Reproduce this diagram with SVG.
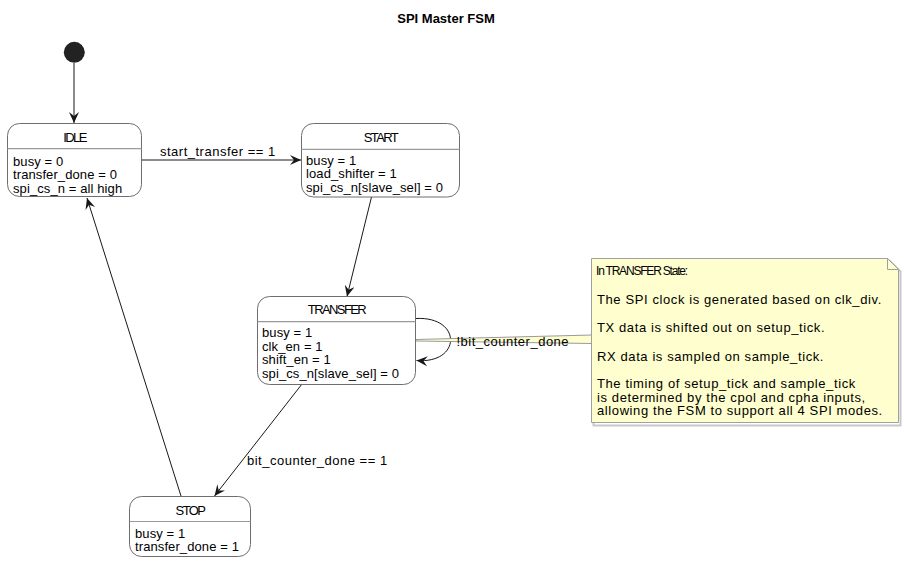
<svg xmlns="http://www.w3.org/2000/svg" width="904" height="562" viewBox="0 0 904 562">
<defs>
<marker id="ah" viewBox="0 0 12 10" refX="11" refY="5" markerWidth="12" markerHeight="10" markerUnits="userSpaceOnUse" orient="auto">
<path d="M0,0 L11,5 L0,10 L4,5 z" fill="#181818"/>
</marker>
<style>
.box{fill:#ffffff;stroke:#6e6e6e;stroke-width:1}
.sep{stroke:#9a9a9a;stroke-width:1.2}
.hdr{font-family:"Liberation Sans",Arial,sans-serif;font-size:13px;letter-spacing:-1.6px;fill:#000;text-anchor:middle}
.body{font-family:"Liberation Sans",Arial,sans-serif;font-size:13px;letter-spacing:0.1px;fill:#000}
.lbl{font-family:"Liberation Sans",Arial,sans-serif;font-size:13px;letter-spacing:0.5px;fill:#000}
.edge{fill:none;stroke:#181818;stroke-width:1;marker-end:url(#ah)}
.note{fill:#fefece;stroke:#a0a0a0;stroke-width:1}
.ntxt{font-family:"Liberation Sans",Arial,sans-serif;font-size:13px;letter-spacing:0.6px;fill:#000}
.nhdr{font-family:"Liberation Sans",Arial,sans-serif;font-size:12px;letter-spacing:-1.2px;fill:#000}
</style>
</defs>
<rect width="904" height="562" fill="#ffffff"/>
<text x="446" y="22.5" font-family="Liberation Sans,Arial,sans-serif" font-size="13" font-weight="bold" text-anchor="middle">SPI Master FSM</text>

<g id="connectors">
<line class="edge" x1="74" y1="63" x2="74" y2="123"/>
<line class="edge" x1="141" y1="160" x2="301" y2="160"/>
<line class="edge" x1="371.5" y1="197" x2="347" y2="296.5"/>
<path class="edge" d="M416,318.5 C462,316 462,364 416.5,360.5"/>
<line class="edge" x1="302" y1="384" x2="214.5" y2="496"/>
<line class="edge" x1="181" y1="496" x2="87" y2="198"/>
<polygon points="416,339.5 592,335 592,343.5 416,341" fill="#fefece" stroke="#9a9a9a" stroke-width="1"/>
<text class="lbl" x="160" y="156">start_transfer == 1</text>
<text class="lbl" x="456.5" y="345.5">!bit_counter_done</text>
<text class="lbl" x="247" y="465">bit_counter_done == 1</text>
</g>

<g id="initial">
<circle cx="74.3" cy="52.3" r="10.5" fill="#222222"/>
</g>

<g id="IDLE">
<rect class="box" x="7.5" y="123.5" width="134" height="73" rx="12" ry="12"/>
<line class="sep" x1="7.5" y1="148.7" x2="141.5" y2="148.7"/>
<text class="hdr" x="74.5" y="141.5">IDLE</text>
<text class="body" x="13" y="165.5">busy = 0</text>
<text class="body" x="13" y="179">transfer_done = 0</text>
<text class="body" x="13" y="192.5">spi_cs_n = all high</text>
</g>

<g id="START">
<rect class="box" x="301.5" y="123.5" width="158" height="73.5" rx="12" ry="12"/>
<line class="sep" x1="301.5" y1="149.3" x2="459.5" y2="149.3"/>
<text class="hdr" x="380.5" y="141.8">START</text>
<text class="body" x="306" y="164.5">busy = 1</text>
<text class="body" x="306" y="178">load_shifter = 1</text>
<text class="body" x="306" y="191.5">spi_cs_n[slave_sel] = 0</text>
</g>

<g id="TRANSFER">
<rect class="box" x="257.5" y="296.5" width="158" height="88" rx="12" ry="12"/>
<line class="sep" x1="257.5" y1="321.7" x2="415.5" y2="321.7"/>
<text class="hdr" x="336.5" y="314.3">TRANSFER</text>
<text class="body" x="262" y="337">busy = 1</text>
<text class="body" x="262" y="350.5">clk_en = 1</text>
<text class="body" x="262" y="364">shift_en = 1</text>
<text class="body" x="262" y="377.5">spi_cs_n[slave_sel] = 0</text>
</g>

<g id="STOP">
<rect class="box" x="129.5" y="496.5" width="121" height="60" rx="12" ry="12"/>
<line class="sep" x1="129.5" y1="521.5" x2="250.5" y2="521.5"/>
<text class="hdr" x="190" y="514.5">STOP</text>
<text class="body" x="135" y="537.5">busy = 1</text>
<text class="body" x="135" y="551">transfer_done = 1</text>
</g>

<g id="note">
<path d="M592,259 L888,259 L899,270 L899,424 L592,424 Z" fill="none" stroke="#c8c8c8" stroke-width="2" transform="translate(1.5,1.5)"/>
<path class="note" d="M591.5,258.5 L887.5,258.5 L898.5,269.5 L898.5,422.5 L591.5,422.5 Z"/>
<path d="M887.5,258.5 L887.5,269.5 L898.5,269.5" fill="none" stroke="#a0a0a0" stroke-width="1"/>
<text class="nhdr" x="596" y="275">In TRANSFER State:</text>
<text class="ntxt" x="597" y="304">The SPI clock is generated based on clk_div.</text>
<text class="ntxt" x="597" y="332">TX data is shifted out on setup_tick.</text>
<text class="ntxt" x="597" y="360.5">RX data is sampled on sample_tick.</text>
<text class="ntxt" x="597" y="388">The timing of setup_tick and sample_tick</text>
<text class="ntxt" x="597" y="401.5">is determined by the cpol and cpha inputs,</text>
<text class="ntxt" x="597" y="415">allowing the FSM to support all 4 SPI modes.</text>
</g>
</svg>
